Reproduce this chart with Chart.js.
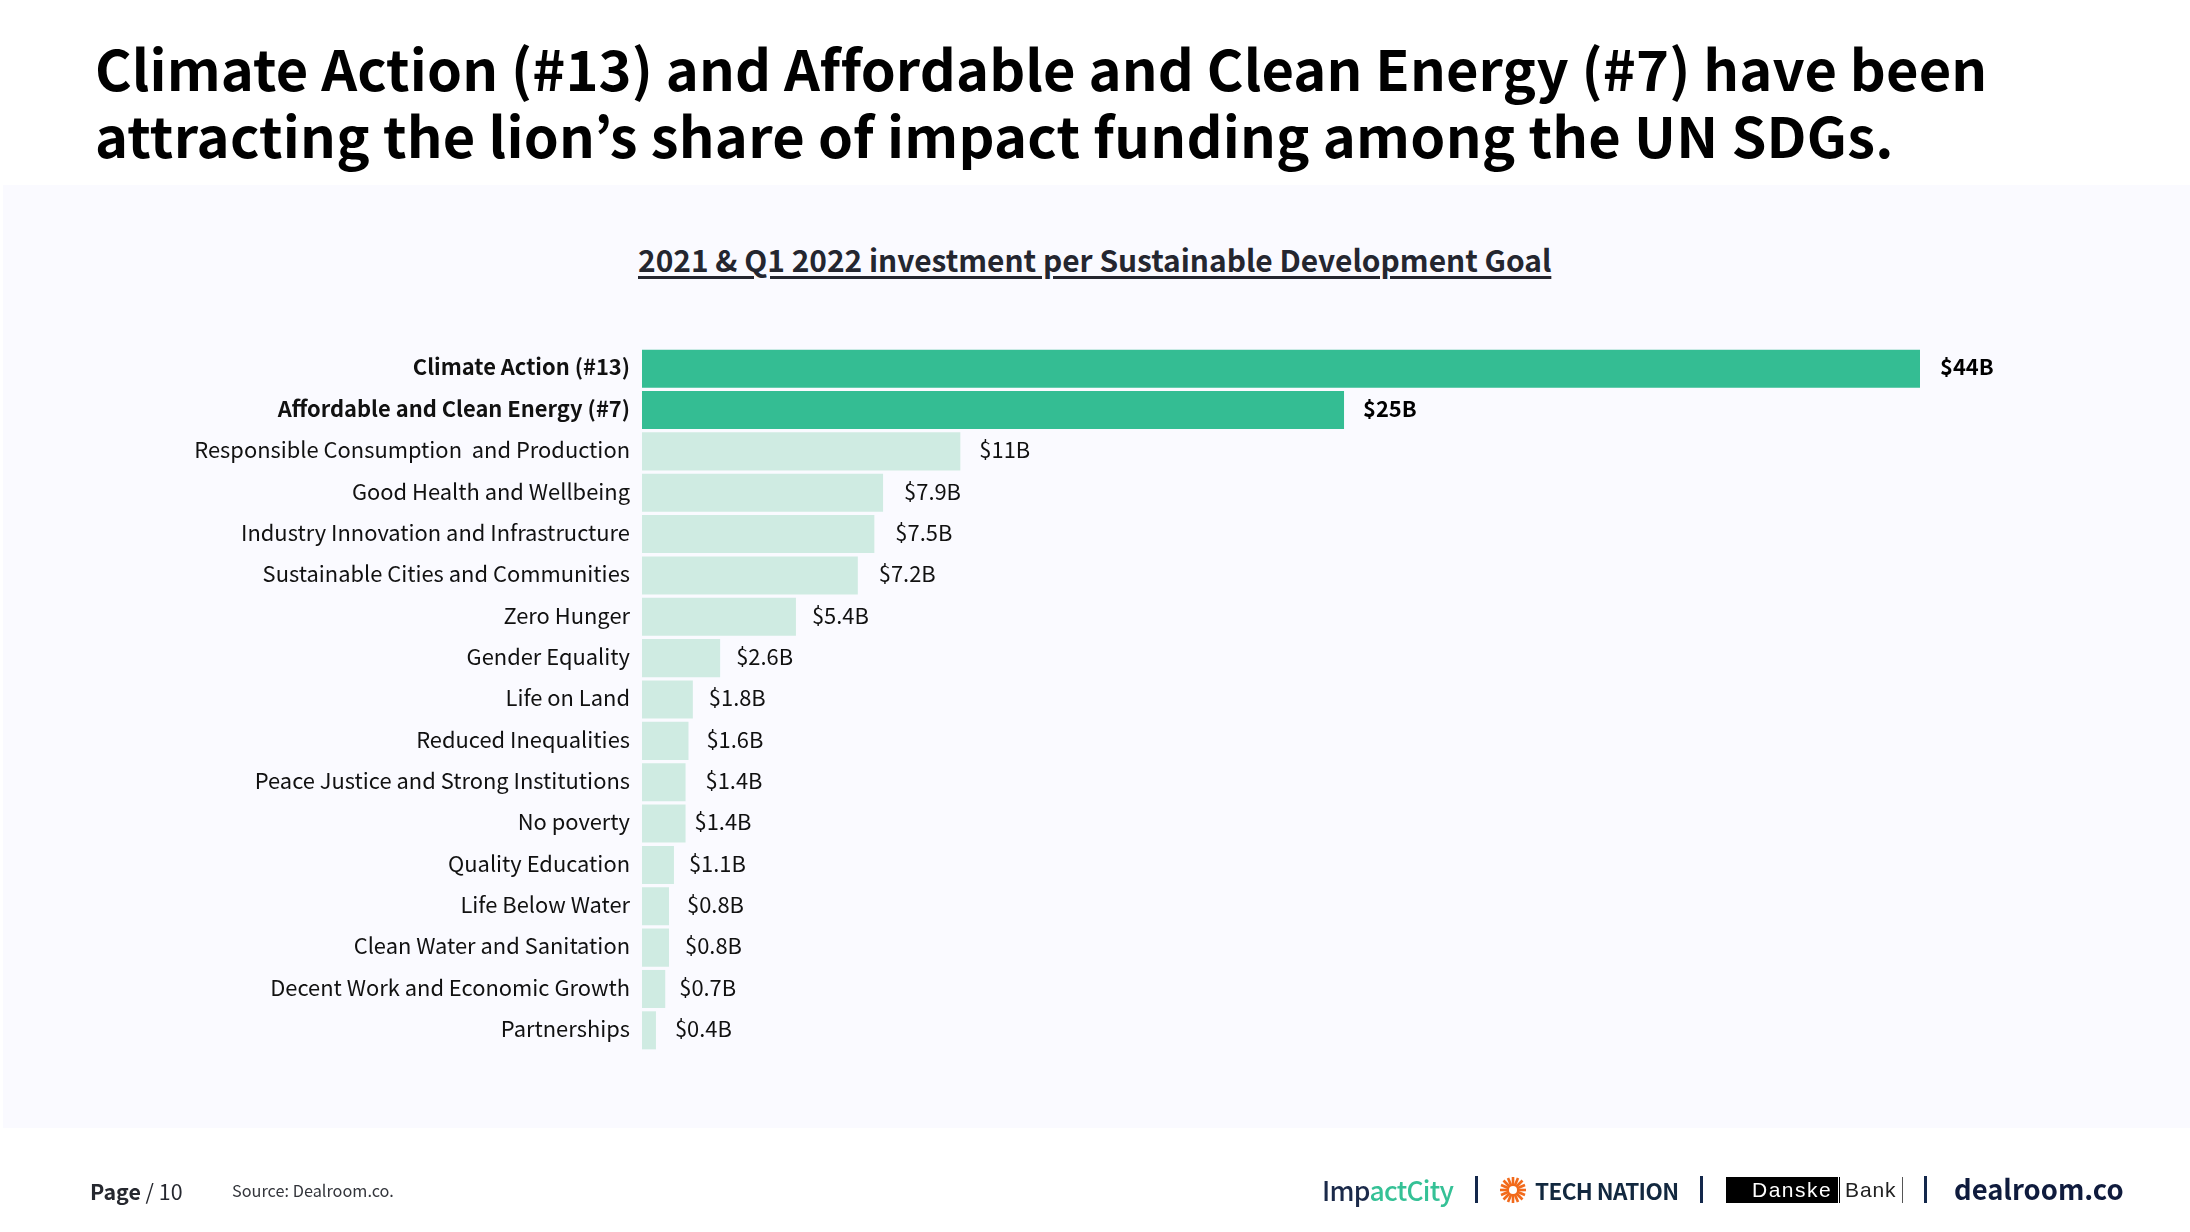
<!DOCTYPE html>
<html><head><meta charset="utf-8">
<script src="https://cdn.jsdelivr.net/npm/chart.js@4"></script>
<style>
html,body{margin:0;padding:0;background:#fff;width:2190px;height:1232px;overflow:hidden;font-family:"Noto Sans CJK JP","Noto Sans",sans-serif}
.t{position:absolute;white-space:nowrap}
#panel{position:absolute;left:3px;top:185px;width:2187px;height:943px;background:#fafaff}
#main{left:95px;top:33px;font-size:56px;line-height:67px;font-weight:700;color:#000;letter-spacing:.12px}
#sub{left:638px;top:237px;font-size:29.9px;line-height:44px;font-weight:700;color:#24262f;text-decoration:underline;text-decoration-thickness:3px;text-underline-offset:4px}
canvas{position:absolute;left:0;top:0}
</style></head><body>
<div id="panel"></div>
<div class="t" id="main">Climate Action (#13) and Affordable and Clean Energy (#7) have been<br><span style="letter-spacing:.25px">attracting the lion’s share of impact funding among the UN SDGs.</span></div>
<div class="t" id="sub">2021 &amp; Q1 2022 investment per Sustainable Development Goal</div>
<canvas id="c" width="2190" height="1232"></canvas>
<div class="t" style="left:90px;top:1174px;font-size:21.4px;line-height:34px;color:#26282f"><b style="font-weight:700">Page</b> / 10</div>
<div class="t" style="left:232px;top:1177px;font-size:16.3px;line-height:26px;color:#33353b">Source: Dealroom.co.</div>
<div class="t" style="left:1322px;top:1170px;font-size:26.5px;line-height:40px;font-weight:500;color:#1b2a4a;letter-spacing:-.7px">Imp<span style="color:#35c196">actCity</span></div>
<div class="t" style="left:1475px;top:1176px;width:3px;height:27px;background:#13284b"></div>
<svg class="t" style="left:1499px;top:1176px" width="28" height="28" viewBox="-14 -14 28 28"><g stroke="#f26a1b" stroke-width="2.6"><line x1="-13" y1="0" x2="13" y2="0"/><line x1="0" y1="-13" x2="0" y2="13"/><line x1="-9.5" y1="-9.5" x2="9.5" y2="9.5"/><line x1="-9.5" y1="9.5" x2="9.5" y2="-9.5"/><line x1="-12" y1="-5" x2="12" y2="5"/><line x1="-12" y1="5" x2="12" y2="-5"/><line x1="-5" y1="-12" x2="5" y2="12"/><line x1="5" y1="-12" x2="-5" y2="12"/></g><circle r="4" fill="#fff"/></svg>
<div class="t" style="left:1535px;top:1172px;font-size:22.5px;line-height:36px;font-weight:700;color:#12283f;letter-spacing:-.6px">TECH NATION</div>
<div class="t" style="left:1700px;top:1176px;width:3px;height:27px;background:#13284b"></div>
<div class="t" style="left:1726px;top:1177px;width:112px;height:26px;background:#000"></div>
<div class="t" style="left:1752px;top:1177px;font:21px/26px 'Liberation Sans';color:#fff;letter-spacing:1.5px">Danske</div>
<div class="t" style="left:1839px;top:1177px;width:1px;height:26px;background:#000"></div>
<div class="t" style="left:1845px;top:1177px;font:21px/26px 'Liberation Sans';color:#222;letter-spacing:.9px">Bank</div>
<div class="t" style="left:1902px;top:1177px;width:1px;height:26px;background:#555"></div>
<div class="t" style="left:1924px;top:1176px;width:3px;height:27px;background:#13284b"></div>
<div class="t" style="left:1954px;top:1167px;font-size:27.4px;line-height:42px;font-weight:700;color:#0f1b3d">dealroom.co</div>
<script>
const categories = ["Climate Action (#13)","Affordable and Clean Energy (#7)","Responsible Consumption  and Production","Good Health and Wellbeing","Industry Innovation and Infrastructure","Sustainable Cities and Communities","Zero Hunger","Gender Equality","Life on Land","Reduced Inequalities","Peace Justice and Strong Institutions","No poverty","Quality Education","Life Below Water","Clean Water and Sanitation","Decent Work and Economic Growth","Partnerships"];
// bar lengths ($B)
const investment = [44,24.17,10.96,8.3,8,7.43,5.3,2.69,1.75,1.6,1.5,1.5,1.1,.93,.93,.8,.48];
const valueLabels = ["$44B","$25B","$11B","$7.9B","$7.5B","$7.2B","$5.4B","$2.6B","$1.8B","$1.6B","$1.4B","$1.4B","$1.1B","$0.8B","$0.8B","$0.7B","$0.4B"];
const labelGaps = [20,19,19,21,21,21,16,16,16,18,20,9,15,18,16,14,19];
const highlighted = 2;
const FONT = '"Noto Sans CJK JP","Noto Sans",sans-serif';
const valueLabelPlugin = {id:'valueLabels',afterDatasetsDraw(chart){
  const {ctx}=chart, meta=chart.getDatasetMeta(0);
  ctx.save();ctx.textBaseline='middle';ctx.textAlign='left';
  meta.data.forEach((b,i)=>{
    ctx.font=(i<highlighted?'700 ':'400 ')+'21.9px '+FONT;
    ctx.fillStyle=i<highlighted?'#000':'#111';
    ctx.fillText(valueLabels[i],b.x+labelGaps[i],b.y-1.5);
  });
  ctx.restore();
}};
new Chart(document.getElementById('c'),{
  type:'bar',
  data:{labels:categories,datasets:[{data:investment,
    backgroundColor:investment.map((v,i)=>i<highlighted?'#34bd93':'#cfebe2'),
    barPercentage:1,categoryPercentage:.92}]},
  options:{indexAxis:'y',responsive:false,animation:false,
    layout:{padding:{top:348,bottom:181,left:0,right:270}},
    plugins:{legend:{display:false},tooltip:{enabled:false},title:{display:false}},
    scales:{
      x:{display:false,min:0,max:44},
      y:{afterFit(s){s.width=642},border:{display:false},grid:{display:false},
        ticks:{autoSkip:false,padding:4,labelOffset:-1.5,color:'#111',
          font:c=>({family:FONT,size:21.9,weight:c.index<highlighted?'700':'400'})}}
    }},
  plugins:[valueLabelPlugin]
});
</script>
</body></html>
